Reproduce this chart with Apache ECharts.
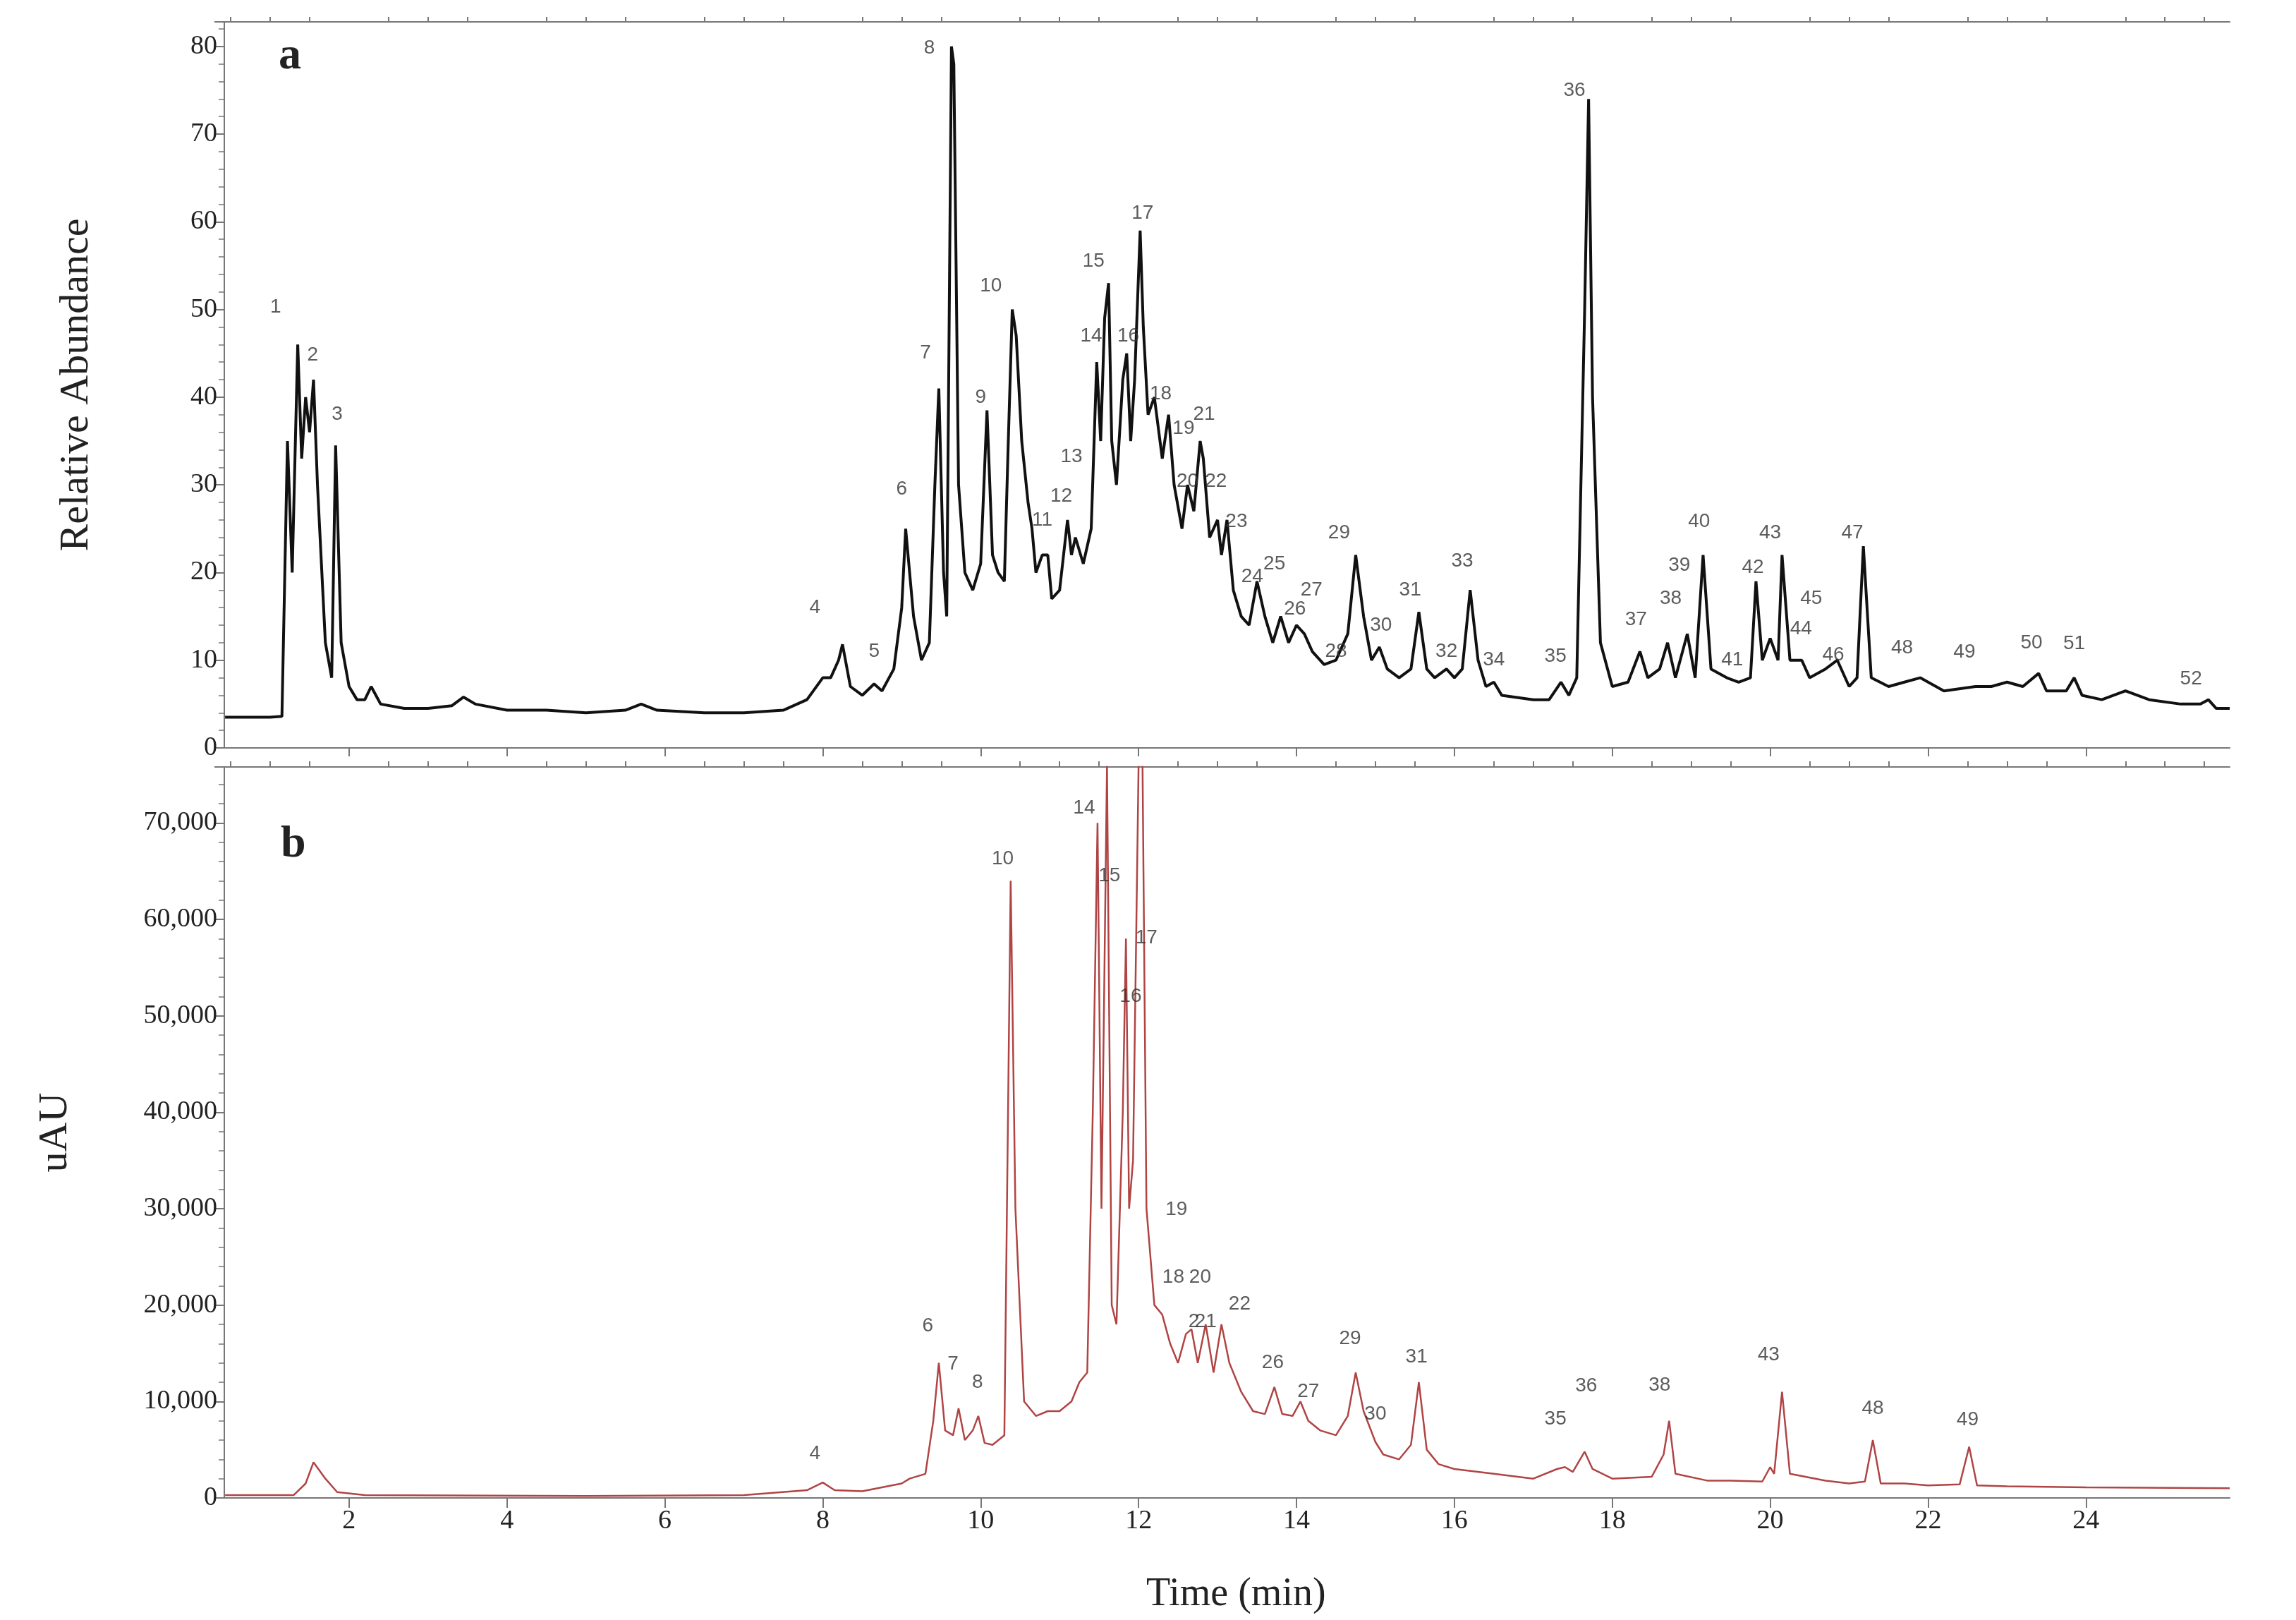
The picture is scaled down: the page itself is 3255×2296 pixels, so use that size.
<!DOCTYPE html>
<html><head><meta charset="utf-8">
<script src="https://cdn.jsdelivr.net/npm/echarts@6/dist/echarts.min.js"></script>
<style>html,body{margin:0;padding:0;background:#fff}#c{width:3255px;height:2296px}</style>
</head><body><div id="c"></div>
<script>
const traceA = [[0.43,3.5],[1.0,3.5],[1.15,3.6],[1.22,35],[1.28,20],[1.35,46],[1.4,33],[1.45,40],[1.5,36],[1.55,42],[1.6,30],[1.7,12],[1.78,8],[1.83,34.5],[1.9,12],[2.0,7],[2.1,5.5],[2.2,5.5],[2.28,7],[2.4,5],[2.7,4.5],[3.0,4.5],[3.3,4.8],[3.45,5.8],[3.6,5],[4.0,4.3],[4.5,4.3],[5.0,4],[5.5,4.3],[5.7,5],[5.9,4.3],[6.5,4],[7.0,4],[7.5,4.3],[7.8,5.5],[8.0,8],[8.1,8],[8.2,10],[8.25,11.8],[8.35,7],[8.5,6],[8.65,7.3],[8.75,6.5],[8.9,9],[9.0,16],[9.05,25],[9.15,15],[9.25,10],[9.35,12],[9.42,30],[9.47,41],[9.53,20],[9.57,15],[9.63,80],[9.66,78],[9.72,30],[9.8,20],[9.9,18],[10.0,21],[10.08,38.5],[10.15,22],[10.22,20],[10.3,19],[10.35,35],[10.4,50],[10.45,47],[10.52,35],[10.6,28],[10.65,25],[10.7,20],[10.78,22],[10.85,22],[10.9,17],[11.0,18],[11.1,26],[11.15,22],[11.2,24],[11.3,21],[11.4,25],[11.47,44],[11.52,35],[11.57,49],[11.62,53],[11.66,35],[11.72,30],[11.8,42],[11.85,45],[11.9,35],[11.95,42],[12.02,59],[12.06,48],[12.12,38],[12.2,40],[12.3,33],[12.38,38],[12.45,30],[12.55,25],[12.62,30],[12.7,27],[12.78,35],[12.82,33],[12.9,24],[13.0,26],[13.05,22],[13.12,26],[13.2,18],[13.3,15],[13.4,14],[13.5,19],[13.6,15],[13.7,12],[13.8,15],[13.9,12],[14.0,14],[14.1,13],[14.2,11],[14.35,9.5],[14.5,10],[14.65,13],[14.75,22],[14.85,15],[14.95,10],[15.05,11.5],[15.15,9],[15.3,8],[15.45,9],[15.55,15.5],[15.65,9],[15.75,8],[15.9,9],[16.0,8],[16.1,9],[16.2,18],[16.3,10],[16.4,7],[16.5,7.5],[16.6,6],[17.0,5.5],[17.2,5.5],[17.35,7.5],[17.45,6],[17.55,8],[17.65,50],[17.7,74],[17.75,40],[17.85,12],[18.0,7],[18.2,7.5],[18.35,11],[18.45,8],[18.6,9],[18.7,12],[18.8,8],[18.95,13],[19.05,8],[19.15,22],[19.25,9],[19.45,8],[19.6,7.5],[19.75,8],[19.82,19],[19.9,10],[20.0,12.5],[20.1,10],[20.15,22],[20.25,10],[20.4,10],[20.5,8],[20.7,9],[20.85,10],[21.0,7],[21.1,8],[21.18,23],[21.28,8],[21.5,7],[21.7,7.5],[21.9,8],[22.2,6.5],[22.6,7],[22.8,7],[23.0,7.5],[23.2,7],[23.4,8.5],[23.5,6.5],[23.75,6.5],[23.85,8],[23.95,6],[24.2,5.5],[24.5,6.5],[24.8,5.5],[25.2,5],[25.45,5],[25.55,5.5],[25.65,4.5],[25.82,4.5]];
const traceB = [[0.43,300],[1.3,300],[1.45,1500],[1.55,3700],[1.7,2000],[1.85,600],[2.2,300],[5,200],[7,300],[7.8,800],[8.0,1600],[8.15,800],[8.5,700],[9.0,1500],[9.1,2000],[9.3,2500],[9.4,8000],[9.47,14000],[9.55,7000],[9.65,6500],[9.72,9300],[9.8,6000],[9.9,7000],[9.97,8500],[10.05,5700],[10.15,5500],[10.3,6500],[10.38,64000],[10.44,30000],[10.55,10000],[10.7,8500],[10.85,9000],[11.0,9000],[11.15,10000],[11.25,12000],[11.35,13000],[11.42,40000],[11.48,70000],[11.53,30000],[11.6,76000],[11.66,20000],[11.72,18000],[11.8,40000],[11.84,58000],[11.88,30000],[11.93,35000],[12.0,76000],[12.05,76000],[12.1,30000],[12.2,20000],[12.3,19000],[12.4,16000],[12.5,14000],[12.6,17000],[12.67,17500],[12.75,14000],[12.85,18000],[12.95,13000],[13.05,18000],[13.15,14000],[13.3,11000],[13.45,9000],[13.6,8700],[13.72,11500],[13.82,8700],[13.95,8500],[14.05,10000],[14.15,8000],[14.3,7000],[14.5,6500],[14.65,8500],[14.75,13000],[14.85,9000],[15.0,5800],[15.1,4500],[15.3,4000],[15.45,5500],[15.55,12000],[15.65,5000],[15.8,3500],[16.0,3000],[16.5,2500],[17.0,2000],[17.3,3000],[17.4,3200],[17.5,2700],[17.65,4800],[17.75,3000],[18.0,2000],[18.5,2200],[18.65,4500],[18.72,8000],[18.8,2500],[19.2,1800],[19.5,1800],[19.9,1700],[20.0,3200],[20.05,2500],[20.15,11000],[20.25,2500],[20.7,1800],[21.0,1500],[21.2,1700],[21.3,6000],[21.4,1500],[21.7,1500],[22.0,1300],[22.4,1400],[22.52,5300],[22.62,1300],[23,1200],[24,1100],[25.82,1000]];
const labelsA = [[1.07,50.3,'1'],[1.54,44.8,'2'],[1.85,38,'3'],[7.9,16,'4'],[8.65,11,'5'],[9.0,29.5,'6'],[9.3,45,'7'],[9.35,79.8,'8'],[10.0,40,'9'],[10.13,52.7,'10'],[10.78,26,'11'],[11.02,28.7,'12'],[11.15,33.2,'13'],[11.4,47,'14'],[11.43,55.5,'15'],[11.87,47,'16'],[12.05,61,'17'],[12.28,40.4,'18'],[12.57,36.4,'19'],[12.62,30.4,'20'],[12.83,38,'21'],[12.98,30.4,'22'],[13.24,25.8,'23'],[13.44,19.5,'24'],[13.72,21,'25'],[13.98,15.8,'26'],[14.19,18,'27'],[14.5,11,'28'],[14.54,24.5,'29'],[15.07,14,'30'],[15.44,18,'31'],[15.9,11,'32'],[16.1,21.3,'33'],[16.5,10,'34'],[17.28,10.4,'35'],[17.52,75,'36'],[18.3,14.6,'37'],[18.74,17,'38'],[18.85,20.8,'39'],[19.1,25.8,'40'],[19.52,10,'41'],[19.78,20.6,'42'],[20.0,24.5,'43'],[20.39,13.6,'44'],[20.52,17,'45'],[20.8,10.6,'46'],[21.04,24.5,'47'],[21.67,11.4,'48'],[22.46,10.9,'49'],[23.31,12,'50'],[23.85,11.9,'51'],[25.33,7.9,'52']];
const labelsB = [[7.9,4575,'4'],[9.33,17800,'6'],[9.65,13900,'7'],[9.96,12000,'8'],[10.28,66300,'10'],[11.31,71500,'14'],[11.63,64500,'15'],[11.9,52000,'16'],[12.1,58100,'17'],[12.48,29900,'19'],[12.44,22900,'18'],[12.78,22900,'20'],[12.7,18300,'2'],[12.85,18300,'21'],[13.28,20100,'22'],[13.7,14000,'26'],[14.15,11000,'27'],[14.68,16500,'29'],[15.0,8700,'30'],[15.52,14600,'31'],[17.28,8200,'35'],[17.67,11600,'36'],[18.6,11700,'38'],[19.98,14800,'43'],[21.3,9300,'48'],[22.5,8100,'49']];
const xTicks = [2,4,6,8,10,12,14,16,18,20,22,24];
const xMinor = [0.5,1,1.5,2.5,3,3.5,4.5,5,5.5,6.5,7,7.5,8.5,9,9.5,10.5,11,11.5,12.5,13,13.5,14.5,15,15.5,16.5,17,17.5,18.5,19,19.5,20.5,21,21.5,22.5,23,23.5,24.5,25,25.5];

const serif = 'Liberation Serif';
const axisCol = '#777';
function xAx(grid, labels, vals, len) {
  return {type:'value', gridIndex:grid, min:0.42, max:25.82, axisLine:{show:true,lineStyle:{color:axisCol,width:2}},
    axisTick:{show:true, customValues:vals, length:len, lineStyle:{color:axisCol,width:2}},
    axisLabel:{show:labels, customValues:xTicks, fontFamily:serif, fontSize:38, color:'#222', margin:14},
    splitLine:{show:false}};
}
function yAx(grid, max, interval, fmt, name, gap) {
  return {type:'value', gridIndex:grid, min:0, max:max, interval:interval, name:name, nameLocation:'middle', nameGap:gap,
    nameTextStyle:{fontFamily:serif, fontSize:58, color:'#222'},
    axisLine:{show:true,lineStyle:{color:axisCol,width:2}}, axisTick:{show:true,length:14,lineStyle:{color:axisCol,width:2}},
    minorTick:{show:true,splitNumber:5,length:8,lineStyle:{color:axisCol,width:1.5}},
    axisLabel:{fontFamily:serif,fontSize:38,color:'#222',formatter:fmt,margin:10,showMaxLabel:false}, splitLine:{show:false}};
}
function lab(data, xi, yi) {
  return {type:'scatter', xAxisIndex:xi, yAxisIndex:yi, symbolSize:1, itemStyle:{color:'rgba(0,0,0,0)'},
    data:data.map(d=>({value:[d[0],d[1]], label:{formatter:d[2]}})),
    label:{show:true, position:'inside', fontFamily:'Liberation Sans', fontSize:28, color:'#333'}, silent:true, z:5};
}
const chart = echarts.init(document.getElementById('c'));
chart.setOption({
  animation:false, backgroundColor:'#fff',
  grid:[{left:318,right:94,top:31,height:1029},{left:318,right:94,top:1087,height:1036}],
  xAxis:[xAx(0,false,xTicks,12), xAx(1,true,xTicks,14), xAx(0,false,xMinor,7), xAx(1,false,xMinor,8)],
  yAxis:[yAx(0,82.8,10,v=>v,'Relative Abundance',180), yAx(1,75800,10000,v=>v.toLocaleString('en-US'),'uAU',210)],
  series:[
    {type:'line', xAxisIndex:0, yAxisIndex:0, data:traceA, symbol:'none', lineStyle:{color:'#111',width:4}, clip:true},
    {type:'line', xAxisIndex:1, yAxisIndex:1, data:traceB, symbol:'none', lineStyle:{color:'#b04444',width:2.5}, clip:true},
    lab(labelsA,0,0), lab(labelsB,1,1)
  ],
  graphic:[
    {type:'text', left:395, top:48, style:{text:'a', font:'bold 64px "Liberation Serif"', fill:'#222'}},
    {type:'text', left:398, top:1165, style:{text:'b', font:'bold 64px "Liberation Serif"', fill:'#222'}},
    {type:'text', left:1625, top:2232, style:{text:'Time (min)', font:'56px "Liberation Serif"', fill:'#222', align:'center', verticalAlign:'middle'}}
  ]
});
</script></body></html>
